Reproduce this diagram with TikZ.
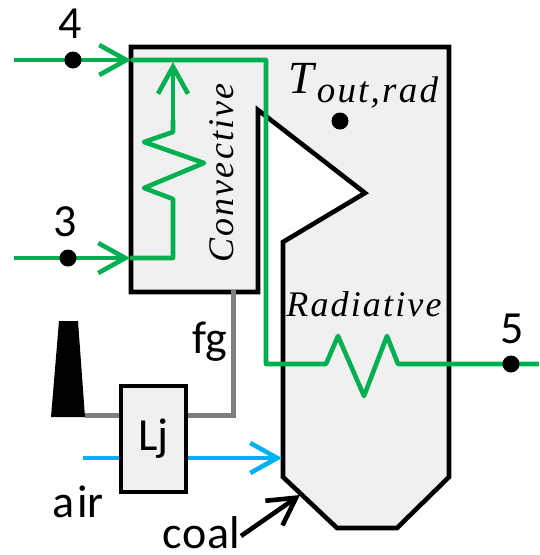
\documentclass[tikz,border=0pt]{standalone}
\usepackage{fontspec}
\setmainfont{Carlito}
\newfontfamily\mathlike[LetterSpace=6]{Liberation Serif}
\usetikzlibrary{positioning, arrows.meta}
\definecolor{steamgreen}{HTML}{00B050}
\definecolor{airblue}{HTML}{00B0F0}
\definecolor{wallgray}{HTML}{F0F0F0}
\definecolor{gasgray}{HTML}{7F7F7F}
\tikzset{
    wall/.style={draw=black, line width=4.6pt, fill=wallgray, line join=miter},
    steam/.style={draw=steamgreen, line width=4.6pt, line join=round},
    gas/.style={draw=gasgray, line width=5pt},
    airline/.style={draw=airblue, line width=4.6pt},
    barb/.style={-{Straight Barb[length=27pt, width=30pt, line width=4.6pt]}},
    dot/.style={circle, fill=black, minimum size=17pt, inner sep=0pt},
    label/.style={font=\fontsize{46}{52}\selectfont, inner sep=0pt},
    zone/.style={font=\fontsize{36}{42}\selectfont\mathlike\itshape, inner sep=0pt}
}
\begin{document}
\begin{tikzpicture}[x=1pt, y=-1pt, node distance=6pt]
        \useasboundingbox (0,0) rectangle (539,555);

        \draw[wall] (131,47) -- (449,47) -- (449,477) -- (397,528) -- (337,528) -- (283,477)
            -- (283,242) -- (365,193) -- (258,110) -- (258,292) -- (131,292) -- cycle;
        \fill[black] (59,321) -- (78,321) -- (85,417) -- (51,417) -- cycle;

        \coordinate (stack)  at (85,415);
        \coordinate (flue)   at (233,290);
        \coordinate (bend)   at (233,415);
        \node[wall, minimum width=65pt, minimum height=106pt, inner sep=0pt, font=\fontsize{46}{52}\selectfont]
                                                            (lj)      at (153.5,439) {Lj};
        \draw[gas] (flue)  -- (bend) -- (lj.east |- bend);
        \draw[gas] (stack) -- (lj.west |- stack);

        \coordinate (air in)    at (83,458);
        \coordinate (air port)  at (282,458);
        \draw[airline]       (air in) -- (lj.west |- air in);
        \draw[airline, barb] (lj.east |- air port) -- (air port);

        \coordinate (coal in)   at (241,536);
        \coordinate (coal port) at (300,495);
        \draw[line width=4.6pt, barb] (coal in) -- (coal port);

        \coordinate (in 4)   at (14,60);
        \coordinate (port 4) at (131,60);
        \coordinate (turn a) at (266,60);
        \coordinate (turn b) at (266,364);
        \coordinate (out 5)  at (539,364);
        \draw[steam, barb] (in 4) -- (port 4);
        \draw[steam] (port 4) -- (turn a) -- (turn b) -- (326,364) -- (338,336) -- (364,396)
            -- (387,336) -- (398,364) -- (out 5);

        \coordinate (in 3)   at (14,258);
        \coordinate (port 3) at (130,258);
        \coordinate (turn c) at (173,258);
        \coordinate (top 3)  at (173,62);
        \draw[steam, barb] (in 3) -- (port 3);
        \draw[steam] (port 3) -- (turn c) -- (173,199) -- (144,188) -- (204,163) -- (144,142) -- (173,132) -- (173,120);
        \draw[steam, barb] (173,120) -- (top 3);

        \node[dot]                  (dot 4)   at (73,60)   {};
        \node[dot]                  (dot 3)   at (68,258)  {};
        \node[dot]                  (dot 5)   at (511,364) {};
        \node[dot]                  (dot out) at (340,121) {};
        \node[label, above=13pt of dot 4, xshift=-3pt]     (label 4)  {4};
        \node[label, above=12pt of dot 3, xshift=-3pt]     (label 3)  {3};
        \node[label, above=11pt of dot 5, xshift=1pt]      (label 5)  {5};
        \node[label, anchor=base]   (label fg)   at (210,353) {fg};
        \node[label, anchor=base]   (label air)  at (78,517)  {a\kern3pt ir};
        \node[label, anchor=base]   (label coal) at (201,548) {c\kern1pt oal};

        \node[zone, anchor=base]    (label rad)  at (364,316) {Radiative};
        \node[zone, anchor=base, rotate=90]  (label con)  at (233,173) {Convective};
        \node[zone, anchor=base west] (label t) at (288,93) {\fontsize{46}{52}\selectfont T\kern3pt\raisebox{-9pt}{\fontsize{37}{42}\selectfont out,rad}};
    \end{tikzpicture}
\end{document}
